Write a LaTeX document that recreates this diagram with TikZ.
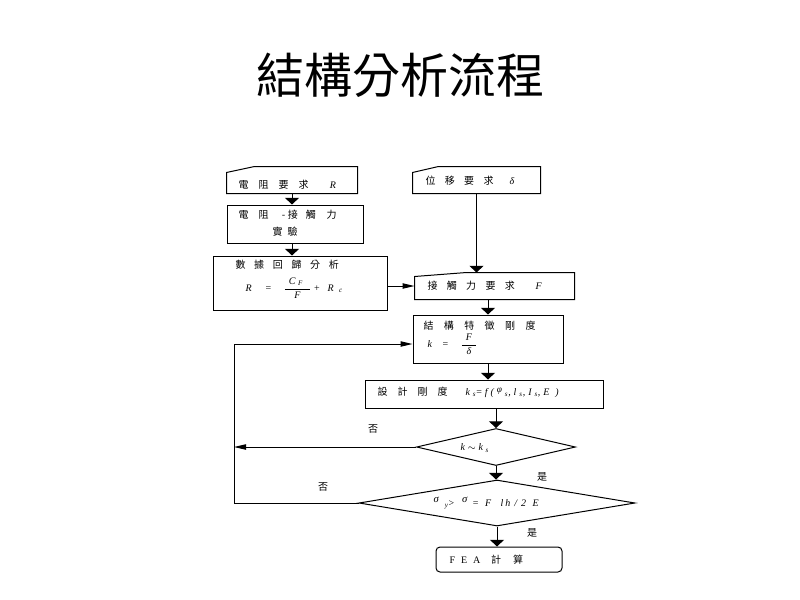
\documentclass[tikz,border=0pt]{standalone}
\usepackage{fontspec}
\usepackage{amsmath}
\setmainfont{Liberation Serif}
\newfontfamily\cjk{Noto Sans CJK TC}
\usetikzlibrary{arrows.meta,shapes.geometric,calc}
\newcommand\gp{\hspace{7.5pt}}
\newcommand\sg{\hspace{2.2pt}}
\newcommand\li[1]{{\rmfamily\itshape #1}}
\begin{document}
\begin{tikzpicture}[x=0.75pt,y=-0.75pt,line width=0.75pt,
  frame/.style={draw=none,rectangle,inner sep=0pt},
  box/.style={draw,rectangle,inner sep=0pt},
  sz/.style 2 args={minimum width={#1*0.75pt},minimum height={#2*0.75pt}},
  dia/.style={draw,diamond,inner sep=0pt,aspect=1},
  txt/.style={anchor=west,inner sep=0pt,font=\cjk\fontsize{7.5}{9}\selectfont},
  mth/.style={anchor=west,inner sep=0pt,font=\rmfamily\itshape\fontsize{7.5}{9}\selectfont},
  lab/.style={inner sep=0pt,font=\cjk\fontsize{7.5}{9}\selectfont},
  varr/.style={-{Triangle[width=10.5pt,length=5pt]}},
  harr/.style={-{Triangle[width=4pt,length=9pt]}}]
\fill[white] (0,0) rectangle (800,600);
\useasboundingbox (0,0) rectangle (800,600);

% title
\node[inner sep=0pt,font=\cjk\fontsize{36}{40}\selectfont] (title) at (400,75) {結構分析流程};

% left column
\node[frame,sz={130}{26}] (b1) at (292,180) {};
\draw (b1.south west) -- ($(b1.north west)+(0,6)$) -- ($(b1.north west)+(28,0)$) -- (b1.north east) -- (b1.south east) -- cycle;
\node[txt] (t1) at (238,185) {電\gp 阻\gp 要\gp 求\hspace{16pt}\li{R}};

\node[box,sz={136}{38}] (b2) at (295,224) {};
\node[txt] (t2a) at (238,215) {電\gp 阻\hspace{10pt}-\hspace{2pt}接\hspace{6pt}觸\hspace{8pt}力};
\node[txt] (t2b) at (272,232) {實\hspace{3.75pt}驗};

\node[box,sz={174}{54}] (b3) at (300,283) {};
\node[txt] (t3a) at (235,265) {數\hspace{6.5pt}據\hspace{6.5pt}回\hspace{6.5pt}歸\hspace{6.5pt}分\hspace{6.5pt}析};
\node[mth] (t3b) at (245,288) {R\hspace{10.5pt}{\upshape=}\hspace{9pt}$\dfrac{\hspace{3pt}\text{C}_{\hspace{2pt}\text{F}}\hspace{5pt}}{\text{F}}$\hspace{2pt}{\upshape+}\hspace{6pt}R$_{\hspace{4pt}\text{c}}$};

% right column
\node[frame,sz={127}{26}] (b4) at (476.5,180) {};
\draw (b4.south west) -- ($(b4.north west)+(0,6)$) -- ($(b4.north west)+(26,0)$) -- (b4.north east) -- (b4.south east) -- cycle;
\node[txt] (t4) at (425,181) {位\hspace{7pt}移\hspace{7pt}要\hspace{7pt}求\hspace{12pt}\li{δ}};

\node[frame,sz={159}{26}] (b5) at (494.5,286) {};
\draw (b5.south west) -- ($(b5.north west)+(0,4)$) -- ($(b5.north west)+(52,0)$) -- (b5.north east) -- (b5.south east) -- cycle;
\node[txt] (t5) at (427,286) {接\hspace{7pt}觸\hspace{7pt}力\hspace{7pt}要\hspace{7pt}求\hspace{15.5pt}\li{F}};

\node[box,sz={150}{48}] (b6) at (488,339) {};
\node[txt] (t6a) at (423,326) {結\hspace{7.8pt}構\hspace{7.8pt}特\hspace{7.8pt}徵\hspace{7.8pt}剛\hspace{7.8pt}度};
\node[mth] (t6b) at (427,344) {k\hspace{8pt}{\upshape=}\hspace{9pt}$\dfrac{\hspace{3pt}\text{F}\hspace{3pt}}{\text{δ}}$};

\node[box,sz={238}{28}] (b7) at (484,394) {};
\node[txt] (t7a) at (377,392) {設\gp 計\gp 剛\gp 度};
\node[mth] (t7b) at (465,393) {k\sg\textsubscript{s}{\upshape=}\sg f\sg(\sg\raisebox{2pt}{\scriptsize φ}\sg\textsubscript{s},\sg l\sg\textsubscript{s},\sg I\sg\textsubscript{s},\sg E\sg\sg)};

\node[dia,sz={159}{37}] (d1) at (496,447) {};
\node[mth] (t8) at (460,448) {k\hspace{2pt}$\sim$\hspace{2pt}k\hspace{2pt}\textsubscript{s}};

\node[dia,sz={276}{46}] (d2) at (497,503) {};
\node[mth] (t9) at (433,503) {\raisebox{2.5pt}{\footnotesize σ}\hspace{4.5pt}\textsubscript{y}{\upshape >}\hspace{6pt}\raisebox{2.5pt}{\footnotesize σ}\hspace{4pt}{\upshape=}\hspace{5pt}F\hspace{7pt}l\hspace{1.5pt}h\hspace{3pt}/\hspace{3pt}2\hspace{5pt}E};

\node[box,rounded corners=3pt,sz={126}{25}] (fea) at (499,559.5) {};
\node[txt] (t10) at (449,560) {\rmfamily F\hspace{4.5pt}E\hspace{4.5pt}A\hspace{8pt}\cjk 計\hspace{9pt}算};

% labels
\node[lab] (no1) at (373,429) {否};
\node[lab] (no2) at (323,487) {否};
\node[lab] (yes1) at (542,477) {是};
\node[lab] (yes2) at (532,533) {是};

% connectors
\coordinate (L1) at (234,447);
\coordinate (L2) at (234,344);
\coordinate (L3) at (234,503);
\draw[varr] (b1.south) -- (b1.south |- b2.north);
\draw[varr] (b2.south -| b1.south) -- (b3.north -| b1.south);
\draw[harr] (b3.east |- b5.west) -- (b5.west);
\draw[varr] (b4.south) -- (b4.south |- b5.north);
\draw[varr] (b5.south -| b6.north) -- (b6.north);
\draw[varr] (b6.south) -- (b6.south |- b7.north);
\draw[varr] (b7.south -| d1.north) -- (d1.north);
\draw[varr] (d1.south) -- (d1.south |- d2.north);
\draw[varr] (d2.south) -- (d2.south |- fea.north);
\draw[harr] (d1.west) -- (L1);
\draw[harr] (d2.west) -- (L3) -- (L2) -- (b6.west |- L2);
\end{tikzpicture}
\end{document}
